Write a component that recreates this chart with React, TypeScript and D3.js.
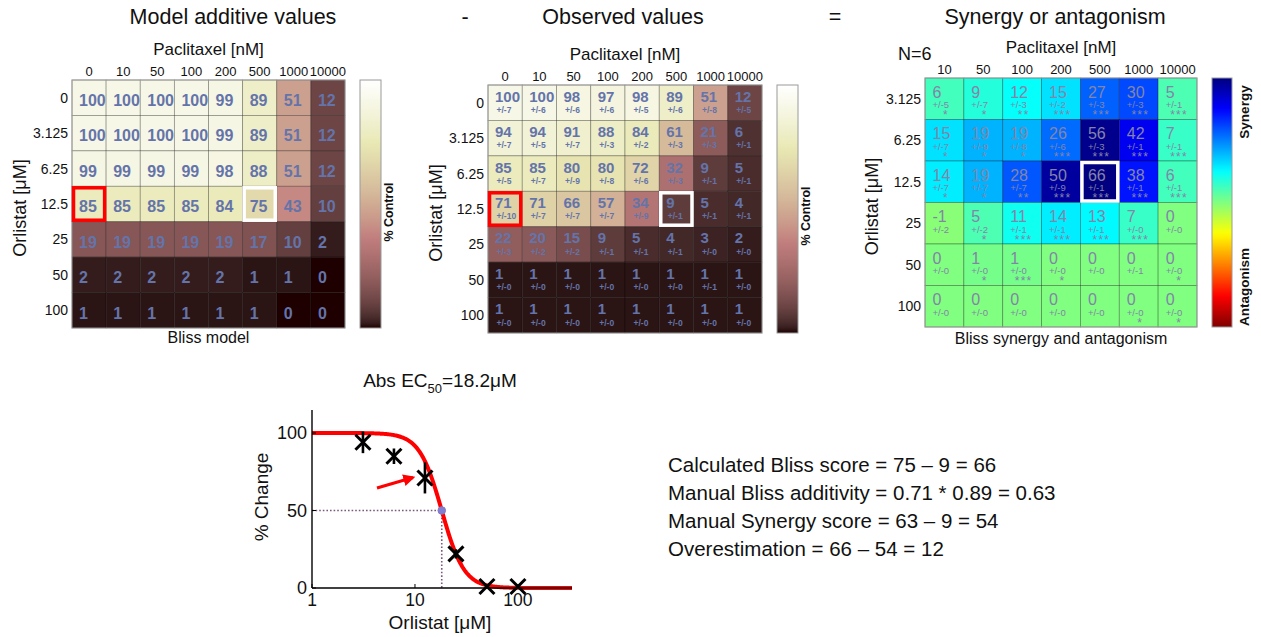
import React from 'react';
import * as d3 from 'd3';

// ---------- DATA ----------
const paclitaxelLabels = ['0', '10', '50', '100', '200', '500', '1000', '10000'];
const orlistatLabels = ['0', '3.125', '6.25', '12.5', '25', '50', '100'];
const synergyCols = ['10', '50', '100', '200', '500', '1000', '10000'];
const synergyRows = ['3.125', '6.25', '12.5', '25', '50', '100'];

const blissModel = [
  [100, 100, 100, 100, 99, 89, 51, 12],
  [100, 100, 100, 100, 99, 89, 51, 12],
  [99, 99, 99, 99, 98, 88, 51, 12],
  [85, 85, 85, 85, 84, 75, 43, 10],
  [19, 19, 19, 19, 19, 17, 10, 2],
  [2, 2, 2, 2, 2, 1, 1, 0],
  [1, 1, 1, 1, 1, 1, 0, 0],
];

const observed = [
  [100, 100, 98, 97, 98, 89, 51, 12],
  [94, 94, 91, 88, 84, 61, 21, 6],
  [85, 85, 80, 80, 72, 32, 9, 5],
  [71, 71, 66, 57, 34, 9, 5, 4],
  [22, 20, 15, 9, 5, 4, 3, 2],
  [1, 1, 1, 1, 1, 1, 1, 1],
  [1, 1, 1, 1, 1, 1, 1, 1],
];
const observedErr = [
  [7, 6, 6, 6, 5, 6, 8, 5],
  [7, 5, 7, 3, 2, 3, 3, 1],
  [5, 7, 9, 8, 6, 3, 1, 1],
  [10, 7, 7, 7, 9, 1, 1, 1],
  [3, 2, 2, 1, 1, 1, 0, 0],
  [0, 0, 0, 0, 0, 0, 1, 0],
  [0, 0, 0, 0, 0, 0, 0, 0],
];

const synergy = [
  [6, 9, 12, 15, 27, 30, 5],
  [15, 19, 19, 26, 56, 42, 7],
  [14, 19, 28, 50, 66, 38, 6],
  [-1, 5, 11, 14, 13, 7, 0],
  [0, 1, 1, 0, 0, 0, 0],
  [0, 0, 0, 0, 0, 0, 0],
];
const synergyErr = [
  [5, 7, 3, 2, 3, 3, 1],
  [7, 9, 8, 6, 3, 1, 1],
  [7, 7, 7, 9, 1, 1, 1],
  [2, 2, 1, 1, 1, 0, 0],
  [0, 0, 0, 0, 0, 1, 0],
  [0, 0, 0, 0, 0, 0, 0],
];
const synergyStars = [
  ['*', '*', '**', '***', '***', '***', '***'],
  ['*', '*', '*', '***', '***', '***', '***'],
  ['*', '*', '**', '***', '***', '***', '***'],
  ['', '*', '***', '***', '***', '***', ''],
  ['', '*', '***', '*', '', '', '*'],
  ['', '', '', '', '', '*', '*'],
];

const doseOrlistat = [3.125, 6.25, 12.5, 25, 50, 100];
const doseResponse = [94, 85, 71, 22, 1, 1];
const doseErr = [7, 5, 10, 3, 0, 0];
const EC50 = 18.2;
const HILL = 4;

const panelTitles = ['Model additive values', '-', 'Observed values', '=', 'Synergy or antagonism'];
const summaryLines = [
  'Calculated Bliss score = 75 \u2013 9 = 66',
  'Manual Bliss additivity = 0.71 * 0.89 = 0.63',
  'Manual Synergy score = 63 \u2013 9 = 54',
  'Overestimation = 66 \u2013 54 = 12',
];

// ---------- COLOR MAPS ----------
const clamp = (v: number) => Math.max(0, Math.min(1, v));
function pink(t: number) {
  const idx = clamp(t) * 63;
  const gray = idx / 63;
  const hr = clamp((idx + 1) / 24);
  const hg = clamp((idx + 1 - 24) / 24);
  const hb = clamp((idx + 1 - 48) / 16);
  const f = (h: number) => Math.round(Math.sqrt((2 * gray + h) / 3) * 255);
  return `rgb(${f(hr)},${f(hg)},${f(hb)})`;
}
function jet(t: number) {
  const r = clamp(1.5 - Math.abs(4 * t - 3));
  const g = clamp(1.5 - Math.abs(4 * t - 2));
  const b = clamp(1.5 - Math.abs(4 * t - 1));
  return `rgb(${Math.round(r * 255)},${Math.round(g * 255)},${Math.round(b * 255)})`;
}
const heatPos = d3.scaleLinear().domain([0, 110]).range([0, 1]).clamp(true);
const heatColor = (v: number) => pink(heatPos(v));
const synPos = d3
  .scaleLinear()
  .domain([-60, 0, 6, 13, 19, 28, 40, 50, 60])
  .range([1, 0.5, 0.44, 0.37, 0.3, 0.21, 0.13, 0.03, 0])
  .clamp(true);
const synColor = (v: number) => jet(synPos(v));

const FONT = "'Liberation Sans', Arial, Helvetica, sans-serif";
const HEAT_TEXT = '#6474aa';
const SYN_TEXT = '#8484a8';

type HMProps = {
  x0: number; y0: number; w: number; h: number;
  cols: string[]; rows: string[];
  vals: number[][]; errs?: number[][]; stars?: string[][];
  color: (v: number) => string;
  mode: 'model' | 'obs' | 'syn';
  red?: [number, number]; white?: [number, number];
  bottomLabel?: string; bottomDy?: number; yLabelX: number;
};

function Heatmap(p: HMProps) {
  const xs = d3.scaleBand<string>().domain(p.cols).range([p.x0, p.x0 + p.w]);
  const ys = d3.scaleBand<string>().domain(p.rows).range([p.y0, p.y0 + p.h]);
  const bw = xs.bandwidth();
  const bh = ys.bandwidth();
  const cells: { r: number; c: number }[] = [];
  p.rows.forEach((_, r) => p.cols.forEach((__, c) => cells.push({ r, c })));
  const box = (rc: [number, number], stroke: string) => (
    <rect
      x={xs(p.cols[rc[1]])! + 1.5}
      y={ys(p.rows[rc[0]])! + 1.5}
      width={bw - 3}
      height={bh - 3}
      fill="none"
      stroke={stroke}
      strokeWidth={3.5}
    />
  );
  return (
    <g fontFamily={FONT}>
      {cells.map(({ r, c }) => (
        <rect
          key={`r${r}-${c}`}
          x={xs(p.cols[c])}
          y={ys(p.rows[r])}
          width={bw}
          height={bh}
          fill={p.color(p.vals[r][c])}
          stroke="rgba(0,0,0,0.35)"
          strokeWidth={0.8}
        />
      ))}
      <rect x={p.x0} y={p.y0} width={p.w} height={p.h} fill="none" stroke="#9a9a9a" strokeWidth={1} />
      {cells.map(({ r, c }) => {
        const cx = xs(p.cols[c])!;
        const cy = ys(p.rows[r])!;
        const v = p.vals[r][c];
        if (p.mode === 'model') {
          return (
            <text key={`t${r}-${c}`} x={cx + 7} y={cy + 26} fontSize={16} fontWeight="bold" fill={HEAT_TEXT}>
              {v}
            </text>
          );
        }
        if (p.mode === 'obs') {
          return (
            <g key={`t${r}-${c}`} fill={HEAT_TEXT} fontWeight="bold">
              <text x={cx + 7} y={cy + 16.7} fontSize={15}>{v}</text>
              <text x={cx + 8.5} y={cy + 28} fontSize={8.5}>{`+/-${p.errs![r][c]}`}</text>
            </g>
          );
        }
        return (
          <g key={`t${r}-${c}`} fill={SYN_TEXT}>
            <text x={cx + 7.5} y={cy + 19.5} fontSize={16}>{v}</text>
            <text x={cx + 7.5} y={cy + 30} fontSize={9.5}>{`+/-${p.errs![r][c]}`}</text>
            <text x={cx + bw / 2 + 1.5} y={cy + 41} fontSize={12} letterSpacing={1.2} textAnchor="middle">
              {p.stars![r][c]}
            </text>
          </g>
        );
      })}
      {p.red && box(p.red, '#ff0000')}
      {p.white && box(p.white, '#ffffff')}
      {p.cols.map((c) => (
        <text key={`c${c}`} x={xs(c)! + bw / 2} y={p.y0 - 4} fontSize={13} textAnchor="middle" fill="#111">
          {c}
        </text>
      ))}
      {p.rows.map((r) => (
        <text key={`rw${r}`} x={p.x0 - 4} y={ys(r)! + bh / 2 + 5} fontSize={14} textAnchor="end" fill="#111">
          {r}
        </text>
      ))}
      <text x={p.x0 + p.w / 2} y={p.y0 - 25} fontSize={17} textAnchor="middle" fill="#111">
        Paclitaxel [nM]
      </text>
      <text
        transform={`translate(${p.yLabelX},${p.y0 + p.h / 2 + 4}) rotate(-90)`}
        fontSize={18}
        textAnchor="middle"
        fill="#111"
      >
        Orlistat [μM]
      </text>
      {p.bottomLabel && (
        <text x={p.x0 + p.w / 2} y={p.y0 + p.h + (p.bottomDy ?? 15)} fontSize={16} textAnchor="middle" fill="#111">
          {p.bottomLabel}
        </text>
      )}
    </g>
  );
}

function Colorbar({ id, x, y, w, h, fn }: { id: string; x: number; y: number; w: number; h: number; fn: (t: number) => string }) {
  const stops = d3.range(0, 1.0001, 0.02);
  return (
    <g>
      <defs>
        <linearGradient id={id} x1="0" y1="0" x2="0" y2="1">
          {stops.map((s) => (
            <stop key={s} offset={s} stopColor={fn(s)} />
          ))}
        </linearGradient>
      </defs>
      <rect x={x} y={y} width={w} height={h} fill={`url(#${id})`} stroke="#9a9a9a" strokeWidth={1} />
    </g>
  );
}

function DoseCurve() {
  const x = d3.scaleLog().domain([1, Math.pow(10, 2.525)]).range([312, 572]);
  const y = d3.scaleLinear().domain([0, 100]).range([588, 433]);
  const hill = (c: number) => 100 / (1 + Math.pow(c / EC50, HILL));
  const samples = d3.range(0, 301).map((i) => Math.pow(10, (i / 300) * 2.525));
  const line = d3
    .line<number>()
    .x((d) => x(d))
    .y((d) => y(hill(d)));
  const xTicks = [1, 10, 100];
  const yTicks = [0, 50, 100];
  const ecX = x(EC50);
  const ecY = y(50);
  return (
    <g fontFamily={FONT} fill="#111">
      <defs>
        <marker id="arrowHead" viewBox="0 0 10 10" refX="8" refY="5" markerWidth="4" markerHeight="4" orient="auto">
          <path d="M0,0 L10,5 L0,10 z" fill="#ff0000" />
        </marker>
      </defs>
      <line x1={x(1)} y1={ecY} x2={ecX} y2={ecY} stroke="#7a587e" strokeWidth={1.6} strokeDasharray="1.6,2" />
      <line x1={ecX} y1={ecY} x2={ecX} y2={y(0)} stroke="#7a587e" strokeWidth={1.6} strokeDasharray="1.6,2" />
      <path d={line(samples)!} fill="none" stroke="#ff0000" strokeWidth={4} />
      <line x1={312} y1={588} x2={572} y2={588} stroke="#000" strokeWidth={1.4} />
      <line x1={312} y1={410} x2={312} y2={588} stroke="#000" strokeWidth={1.4} />
      {xTicks.map((t) => (
        <g key={`xt${t}`}>
          <line x1={x(t)} x2={x(t)} y1={588} y2={584} stroke="#000" strokeWidth={1} />
          <text x={x(t)} y={606} fontSize={17.5} textAnchor="middle">{t}</text>
        </g>
      ))}
      {yTicks.map((t) => (
        <g key={`yt${t}`}>
          <line x1={312} x2={316} y1={y(t)} y2={y(t)} stroke="#000" strokeWidth={1} />
          <text x={307} y={y(t) + 6} fontSize={18} textAnchor="end">{t}</text>
        </g>
      ))}
      {doseOrlistat.map((c, i) => {
        const px = x(c);
        const py = y(doseResponse[i]);
        const s = 7.5;
        return (
          <g key={`pt${i}`} stroke="#000" strokeWidth={3}>
            {doseErr[i] > 0 && (
              <line x1={px} x2={px} y1={y(doseResponse[i] + doseErr[i])} y2={y(doseResponse[i] - doseErr[i])} strokeWidth={2.6} />
            )}
            <line x1={px - s} y1={py - s} x2={px + s} y2={py + s} />
            <line x1={px - s} y1={py + s} x2={px + s} y2={py - s} />
          </g>
        );
      })}
      <circle cx={ecX} cy={ecY} r={3.8} fill="#7f7fd6" stroke="#8a78b8" strokeWidth={1} />
      <line x1={377} y1={488} x2={413} y2={477.5} stroke="#ff0000" strokeWidth={3} markerEnd="url(#arrowHead)" />
      <text x={440} y={387} fontSize={19} textAnchor="middle">
        Abs EC<tspan dy={6} fontSize={13}>50</tspan>
        <tspan dy={-6}>=18.2μM</tspan>
      </text>
      <text transform={`translate(268,497) rotate(-90)`} fontSize={19} textAnchor="middle">% Change</text>
      <text x={440} y={629} fontSize={19} textAnchor="middle">Orlistat [μM]</text>
    </g>
  );
}

export default function App() {
  const titleX = [233, 465, 623, 835, 1055];
  return (
    <svg width={1261} height={637} style={{ position: 'absolute', left: 0, top: 0, background: '#fff' }}>
      <rect x={0} y={0} width={1261} height={637} fill="#fff" />
      {panelTitles.map((t, i) => (
        <text key={t + i} x={titleX[i]} y={24} fontSize={21.5} textAnchor="middle" fontFamily={FONT} fill="#111">
          {t}
        </text>
      ))}

      <Heatmap
        x0={72} y0={80} w={273} h={248}
        cols={paclitaxelLabels} rows={orlistatLabels}
        vals={blissModel} color={heatColor} mode="model"
        red={[3, 0]} white={[3, 5]} bottomLabel="Bliss model" yLabelX={26}
      />
      <Colorbar id="pinkA" x={360} y={80} w={21} h={248} fn={(t) => pink(1 - t)} />
      <text transform="translate(393,212) rotate(-90)" fontSize={12.5} fontWeight="bold" textAnchor="middle" fontFamily={FONT} fill="#111">
        % Control
      </text>

      <Heatmap
        x0={488} y0={85} w={274} h={248}
        cols={paclitaxelLabels} rows={orlistatLabels}
        vals={observed} errs={observedErr} color={heatColor} mode="obs"
        red={[3, 0]} white={[3, 5]} yLabelX={442}
      />
      <Colorbar id="pinkB" x={777} y={85} w={21} h={248} fn={(t) => pink(1 - t)} />
      <text transform="translate(810,216) rotate(-90)" fontSize={12.5} fontWeight="bold" textAnchor="middle" fontFamily={FONT} fill="#111">
        % Control
      </text>

      <Heatmap
        x0={925} y0={78} w={272} h={249}
        cols={synergyCols} rows={synergyRows}
        vals={synergy} errs={synergyErr} stars={synergyStars} color={synColor} mode="syn"
        white={[2, 4]} bottomLabel="Bliss synergy and antagonism" bottomDy={17} yLabelX={878}
      />
      <text x={898} y={60} fontSize={18} fontFamily={FONT} fill="#111">N=6</text>
      <Colorbar id="jetC" x={1212} y={78} w={20} h={249} fn={(t) => jet(t)} />
      <text transform="translate(1249,112) rotate(-90)" fontSize={13.5} fontWeight="bold" textAnchor="middle" fontFamily={FONT} fill="#111">
        Synergy
      </text>
      <text transform="translate(1249,287) rotate(-90)" fontSize={13.5} fontWeight="bold" textAnchor="middle" fontFamily={FONT} fill="#111">
        Antagonism
      </text>

      <DoseCurve />

      {summaryLines.map((s, i) => (
        <text key={s} x={668} y={472 + i * 28} fontSize={20.5} fontFamily={FONT} fill="#111">
          {s}
        </text>
      ))}
    </svg>
  );
}
